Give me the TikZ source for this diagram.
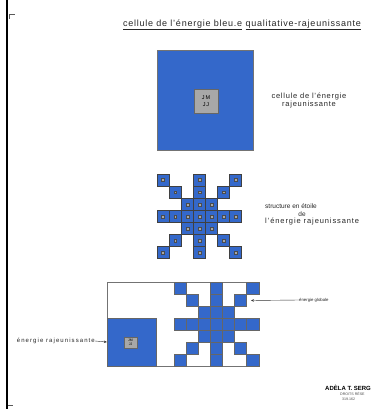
\documentclass[tikz,border=0pt]{standalone}
\usepackage{fontspec}
\setmainfont{Liberation Sans}
\usetikzlibrary{arrows.meta}
\definecolor{crayon}{RGB}{52,104,202}
\definecolor{cellgrey}{RGB}{168,168,168}
\begin{document}
\begin{tikzpicture}[x=1pt,y=-1pt,
  hand/.style={inner sep=0pt,text=black!85,font=\fontsize{6.5}{8}\selectfont},
  bluecell/.style={fill=crayon,draw=black!75,line width=0.5pt},
  flatcell/.style={fill=crayon,draw=gray!80!black,line width=0.4pt},
  dotcell/.style={fill=cellgrey,draw=black!70,line width=0.3pt},
  frame/.style={draw=gray!90!black,line width=0.7pt},
  pointer/.style={draw=black!80,line width=0.4pt,-{Stealth[length=3pt,width=2.5pt]}}]
\useasboundingbox (0,0) rectangle (381,409);
\fill[white] (0,0) rectangle (381,409);
% page border marks
\draw[line width=1.6pt] (7,0) -- (7,409);
\draw[line width=0.6pt,gray!70!black] (9.5,19) -- (9.5,14) -- (15,14);
\draw[line width=0.6pt,gray!70!black] (8,405) -- (13,405);
% title
\node[inner sep=0pt,text=black!85,font=\fontsize{9}{10}\selectfont\addfontfeature{LetterSpace=8.5}] (title) at (242,25)
  {\underline{cellule de l'énergie bleu.e} \underline{qualitative-rajeunissante}};
% big cell
\node[frame,fill=crayon,minimum width=96pt,minimum height=100pt,inner sep=0pt] (bigcell) at (205,100) {};
\node[fill=cellgrey,draw=black!60,line width=0.5pt,minimum size=24pt,inner sep=0pt,align=center,
  font=\fontsize{5.5}{7}\selectfont] (core) at (206,101) {J\,M\\J\,J};
\node[hand,align=center,font=\fontsize{7.5}{8}\selectfont\addfontfeature{LetterSpace=10}] (lbl1) at (309,101) {cellule de l'énergie\\rajeunissante};
% star structure
\foreach \r/\c in {0/0,0/3,0/6,1/1,1/3,1/5,2/2,2/3,2/4,3/0,3/1,3/2,3/3,3/4,3/5,3/6,4/2,4/3,4/4,5/1,5/3,5/5,6/0,6/3,6/6}{
  \draw[bluecell] (157+\c*12.1,174+\r*12.1) rectangle +(12.1,12.1);
  \draw[dotcell] (161.6+\c*12.1,178.6+\r*12.1) rectangle +(2.9,2.9);
}
\node[hand,anchor=west] (lbl2a) at (265,206) {structure en étoile};
\node[hand] (lbl2b) at (302,214) {de};
\node[hand,anchor=west,font=\fontsize{7.5}{8}\selectfont\addfontfeature{LetterSpace=12}] (lbl2c) at (265,222) {l'énergie rajeunissante};
% global energy
\draw[frame] (259,282) -- (107,282) -- (107,366) -- (259,366);
\node[flatcell,minimum width=49pt,minimum height=48pt,inner sep=0pt] (rajsq) at (131.5,342) {};
\node[fill=cellgrey,draw=black!60,line width=0.4pt,minimum width=13pt,minimum height=11pt,inner sep=0pt,align=center,
  font=\fontsize{3.5}{4}\selectfont] (core2) at (130.5,342.5) {JM\\JJ};
\foreach \r/\c in {0/0,0/3,0/6,1/1,1/3,1/5,2/2,2/3,2/4,3/0,3/1,3/2,3/3,3/4,3/5,3/6,4/2,4/3,4/4,5/1,5/3,5/5,6/0,6/3,6/6}{
  \draw[flatcell] (174+\c*12.1,282+\r*12) rectangle +(12.1,12);
}
\node[hand,anchor=west,font=\fontsize{4.3}{5}\selectfont] (glob) at (299,300) {énergie globale};
\coordinate (globtip) at (251,300.5);
\draw[pointer] (glob.west) -- (globtip);
\node[hand,anchor=east,font=\fontsize{6}{7}\selectfont\addfontfeature{LetterSpace=18}] (rajlbl) at (95,341) {énergie rajeunissante};
\draw[pointer] (rajlbl.east) -- (rajsq.west);
% signature
\node[inner sep=0pt,anchor=west,font=\fontsize{6}{7}\selectfont\bfseries] (sig) at (325,387.5) {AD\`ELA T. SERG};
\node[inner sep=0pt,anchor=west,font=\fontsize{3.6}{4}\selectfont,gray!60!black] (sig2) at (340,394) {DROITS RÉSE};
\node[inner sep=0pt,anchor=west,font=\fontsize{3.6}{4}\selectfont,gray!60!black] (sig3) at (342,399.5) {319.162};
\end{tikzpicture}
\end{document}
